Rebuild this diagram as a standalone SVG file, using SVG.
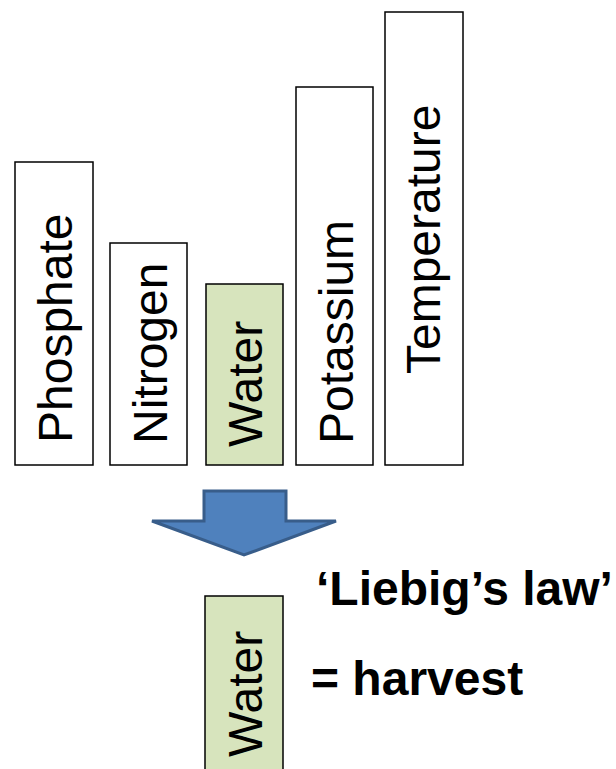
<svg xmlns="http://www.w3.org/2000/svg" width="616" height="769" viewBox="0 0 616 769">
<style>
.bar{fill:#ffffff;stroke:#000000;stroke-width:1.5}
.lim{fill:#d7e4bd;stroke:#000000;stroke-width:1.5}
.vt{font-family:"Liberation Sans",Arial,sans-serif;font-size:48px;fill:#000}
.bt{font-family:"Liberation Sans",Arial,sans-serif;font-size:48px;font-weight:bold;fill:#000}
</style>
<rect width="616" height="769" fill="#ffffff"/>
<g id="phosphate"><rect class="bar" x="15" y="162" width="78" height="303"/><text class="vt" transform="translate(72,443) rotate(-90)">Phosphate</text></g>
<g id="nitrogen"><rect class="bar" x="110" y="243" width="77" height="222"/><text class="vt" transform="translate(167,444) rotate(-90)">Nitrogen</text></g>
<g id="water"><rect class="lim" x="206" y="284" width="77" height="181"/><text class="vt" transform="translate(262,447) rotate(-90)">Water</text></g>
<g id="potassium"><rect class="bar" x="296" y="87" width="77" height="378"/><text class="vt" transform="translate(353,444) rotate(-90)">Potassium</text></g>
<g id="temperature"><rect class="bar" x="385" y="12" width="78" height="453"/><text class="vt" transform="translate(440,374) rotate(-90)">Temperature</text></g>
<g id="connectors"><polygon points="204,491 286,491 286,521 336,521 244,555 152,521 204,521" fill="#4f81bd" stroke="#385d8a" stroke-width="3" stroke-linejoin="miter"/></g>
<g id="water-result"><rect class="lim" x="205" y="596" width="78" height="190"/><text class="vt" transform="translate(262,757) rotate(-90)">Water</text></g>
<g id="labels"><text class="bt" x="316" y="605">‘Liebig’s law’</text><text class="bt" x="311" y="695">= harvest</text></g>
</svg>
